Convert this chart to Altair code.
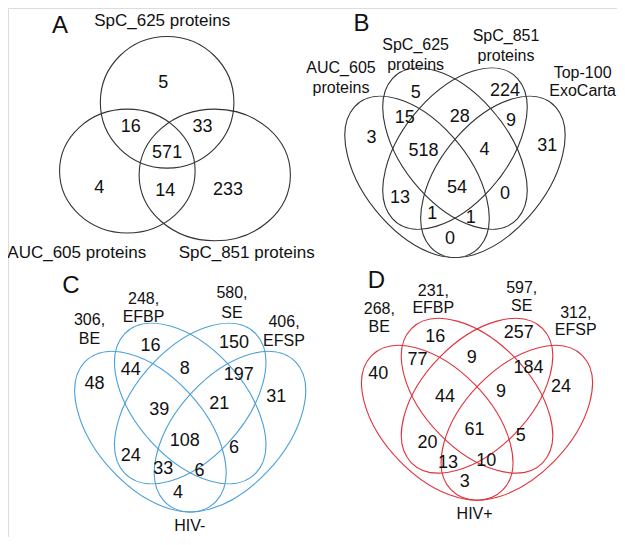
import math
import altair as alt
import pandas as pd

# ---------------- data ----------------
panel_letters = ["A", "B", "C", "D"]

A_sets = ["SpC_625 proteins", "AUC_605 proteins", "SpC_851 proteins"]
A_counts = [5, 16, 33, 571, 4, 14, 233]

B_sets = [["AUC_605", "proteins"], ["SpC_625", "proteins"],
          ["SpC_851", "proteins"], ["Top-100", "ExoCarta"]]
B_counts = [5, 224, 15, 28, 9, 3, 518, 4, 31, 54, 13, 0, 1, 1, 0]

C_sets = [["306,", "BE"], ["248,", "EFBP"], ["580,", "SE"], ["406,", "EFSP"]]
C_counts = [16, 150, 44, 8, 197, 48, 39, 21, 31, 108, 6, 24, 33, 6, 4]
C_group = "HIV-"

D_sets = [["268,", "BE"], ["231,", "EFBP"], ["597,", "SE"], ["312,", "EFSP"]]
D_counts = [16, 257, 77, 9, 184, 40, 44, 9, 24, 61, 5, 20, 13, 10, 3]
D_group = "HIV+"

# ---------------- layout (figure pixel coordinates) ----------------
S = 609 / 620.0
X_DOMAIN = [2, 622]
Y_DOMAIN = [4, 4 + 529 / S]

letter_pos = [(55, 22), (362, 20), (66, 287), (377, 282)]

# panel A: centre x, centre y, radius x, radius y
A_circles = [(164, 100, 68, 67), (123.5, 170, 69, 63), (212.5, 174, 77, 67)]
A_label_pos = [(159, 17), (72, 253), (245, 253)]
A_count_pos = [(160, 80), (127, 125), (200, 125), (164, 152), (95, 187), (162, 190), (226, 189)]

# four-ellipse template in unit space: centre u, v, rotation
TEMPLATE = [(0.35, 0.47, 135), (0.5, 0.57, 135), (0.5, 0.57, 45), (0.65, 0.47, 45)]
SEMI_A, SEMI_B = 0.35, 0.2
# panel transforms: x0, sx, y0, sy
B_tf = (328.3, 257.5, 311.3, 288.0)
C_tf = (52.5, 270.0, 570.0, 286.6)
D_tf = (344.5, 270.0, 556.0, 276.0)

B_label_pos = [[(341, 65), (341, 85)], [(417, 42), (417, 62)],
               [(509, 33), (509, 53)], [(587, 70), (587, 88)]]
B_count_pos = [(417, 91), (508, 89), (406, 116), (462, 115), (514, 119), (372, 136),
               (425, 150), (487, 149), (551, 145), (459, 187), (401, 197), (508, 193),
               (434, 214), (473, 218), (452, 239)]

C_label_pos = [[(85, 322), (85, 341)], [(140, 300), (140, 319)],
               [(230, 294), (230, 314)], [(283, 324), (283, 343)]]
C_count_pos = [(147, 348), (232, 345), (127, 373), (182, 372), (237, 378), (90, 387),
               (156, 413), (217, 407), (275, 400), (182, 445), (232, 452), (127, 460),
               (160, 473), (197, 475), (175, 498)]
C_group_pos = (187, 531)

D_label_pos = [[(380, 310), (380, 329)], [(435, 292), (435, 309)],
               [(525, 289), (525, 307)], [(580, 314), (580, 332)]]
D_count_pos = [(437, 339), (522, 335), (419, 362), (474, 360), (532, 370), (379, 377),
               (447, 400), (504, 395), (565, 390), (477, 434), (524, 440), (429, 447),
               (450, 467), (489, 465), (467, 487)]
D_group_pos = (477, 519)

DARK = "#333333"
BLUE = "#4aa0d8"
RED = "#e0323c"
FRAME = "#8ab6d6"
FONT = "Liberation Sans"

K = 0.5523


def ellipse_path(m):
    """SVG path of the unit circle mapped by 2x2 matrix m (screen px)."""
    pts = [(1, 0), (1, K), (K, 1), (0, 1), (-K, 1), (-1, K), (-1, 0),
           (-1, -K), (-K, -1), (0, -1), (K, -1), (1, -K), (1, 0)]
    tp = [(m[0][0] * c + m[0][1] * s, m[1][0] * c + m[1][1] * s) for c, s in pts]
    f = lambda p: f"{p[0]:.2f},{p[1]:.2f}"
    d = "M" + f(tp[0])
    for i in range(1, 13, 3):
        d += " C" + f(tp[i]) + " " + f(tp[i + 1]) + " " + f(tp[i + 2])
    return d + " Z"


shape_rows = []
for (cx, cy, rx, ry) in A_circles:
    shape_rows.append({"x": cx, "y": cy, "path": ellipse_path([[rx * S, 0], [0, ry * S]]), "col": DARK})

for tf, col in [(B_tf, DARK), (C_tf, BLUE), (D_tf, RED)]:
    x0, sx, y0, sy = tf
    for (u, v, rot) in TEMPLATE:
        cr, sr = math.cos(math.radians(rot)), math.sin(math.radians(rot))
        m = [[S * sx * SEMI_A * cr, -S * sx * SEMI_B * sr],
             [-S * sy * SEMI_A * sr, -S * sy * SEMI_B * cr]]
        shape_rows.append({"x": x0 + u * sx, "y": y0 - v * sy, "path": ellipse_path(m), "col": col})
shapes = pd.DataFrame(shape_rows)

text_rows = []
for t, (x, y) in zip(panel_letters, letter_pos):
    text_rows.append({"x": x, "y": y, "t": t, "fs": 24})
for t, (x, y) in zip(A_sets, A_label_pos):
    text_rows.append({"x": x, "y": y, "t": t, "fs": 17})
for t, (x, y) in zip(A_counts, A_count_pos):
    text_rows.append({"x": x, "y": y, "t": str(t), "fs": 18})
for sets, lpos, counts, cpos in [(B_sets, B_label_pos, B_counts, B_count_pos),
                                 (C_sets, C_label_pos, C_counts, C_count_pos),
                                 (D_sets, D_label_pos, D_counts, D_count_pos)]:
    for lines, poss in zip(sets, lpos):
        for t, (x, y) in zip(lines, poss):
            text_rows.append({"x": x, "y": y, "t": t, "fs": 16})
    for t, (x, y) in zip(counts, cpos):
        text_rows.append({"x": x, "y": y, "t": str(t), "fs": 18})
for t, (x, y) in [(C_group, C_group_pos), (D_group, D_group_pos)]:
    text_rows.append({"x": x, "y": y, "t": t, "fs": 16})
texts = pd.DataFrame(text_rows)

xs = alt.Scale(domain=X_DOMAIN, nice=False, zero=False)
ys = alt.Scale(domain=Y_DOMAIN, nice=False, zero=False, reverse=True)

shape_layer = alt.Chart(shapes).mark_point(filled=False, strokeWidth=1.1, opacity=1).encode(
    x=alt.X("x:Q", scale=xs, axis=None),
    y=alt.Y("y:Q", scale=ys, axis=None),
    shape=alt.Shape("path:N", scale=None),
    color=alt.Color("col:N", scale=None),
    size=alt.value(4),
)

text_layer = alt.Chart(texts).mark_text(font=FONT, color="#111111", baseline="middle", align="center").encode(
    x=alt.X("x:Q", scale=xs, axis=None),
    y=alt.Y("y:Q", scale=ys, axis=None),
    text="t:N",
    size=alt.Size("fs:Q", scale=None),
)

chart = alt.layer(shape_layer, text_layer).properties(
    width=609, height=529, padding=0, autosize="none"
).configure_view(stroke=FRAME, strokeWidth=1.5).configure(background="white")

chart.save("out.html", embed_options={"renderer": "svg", "actions": False})
